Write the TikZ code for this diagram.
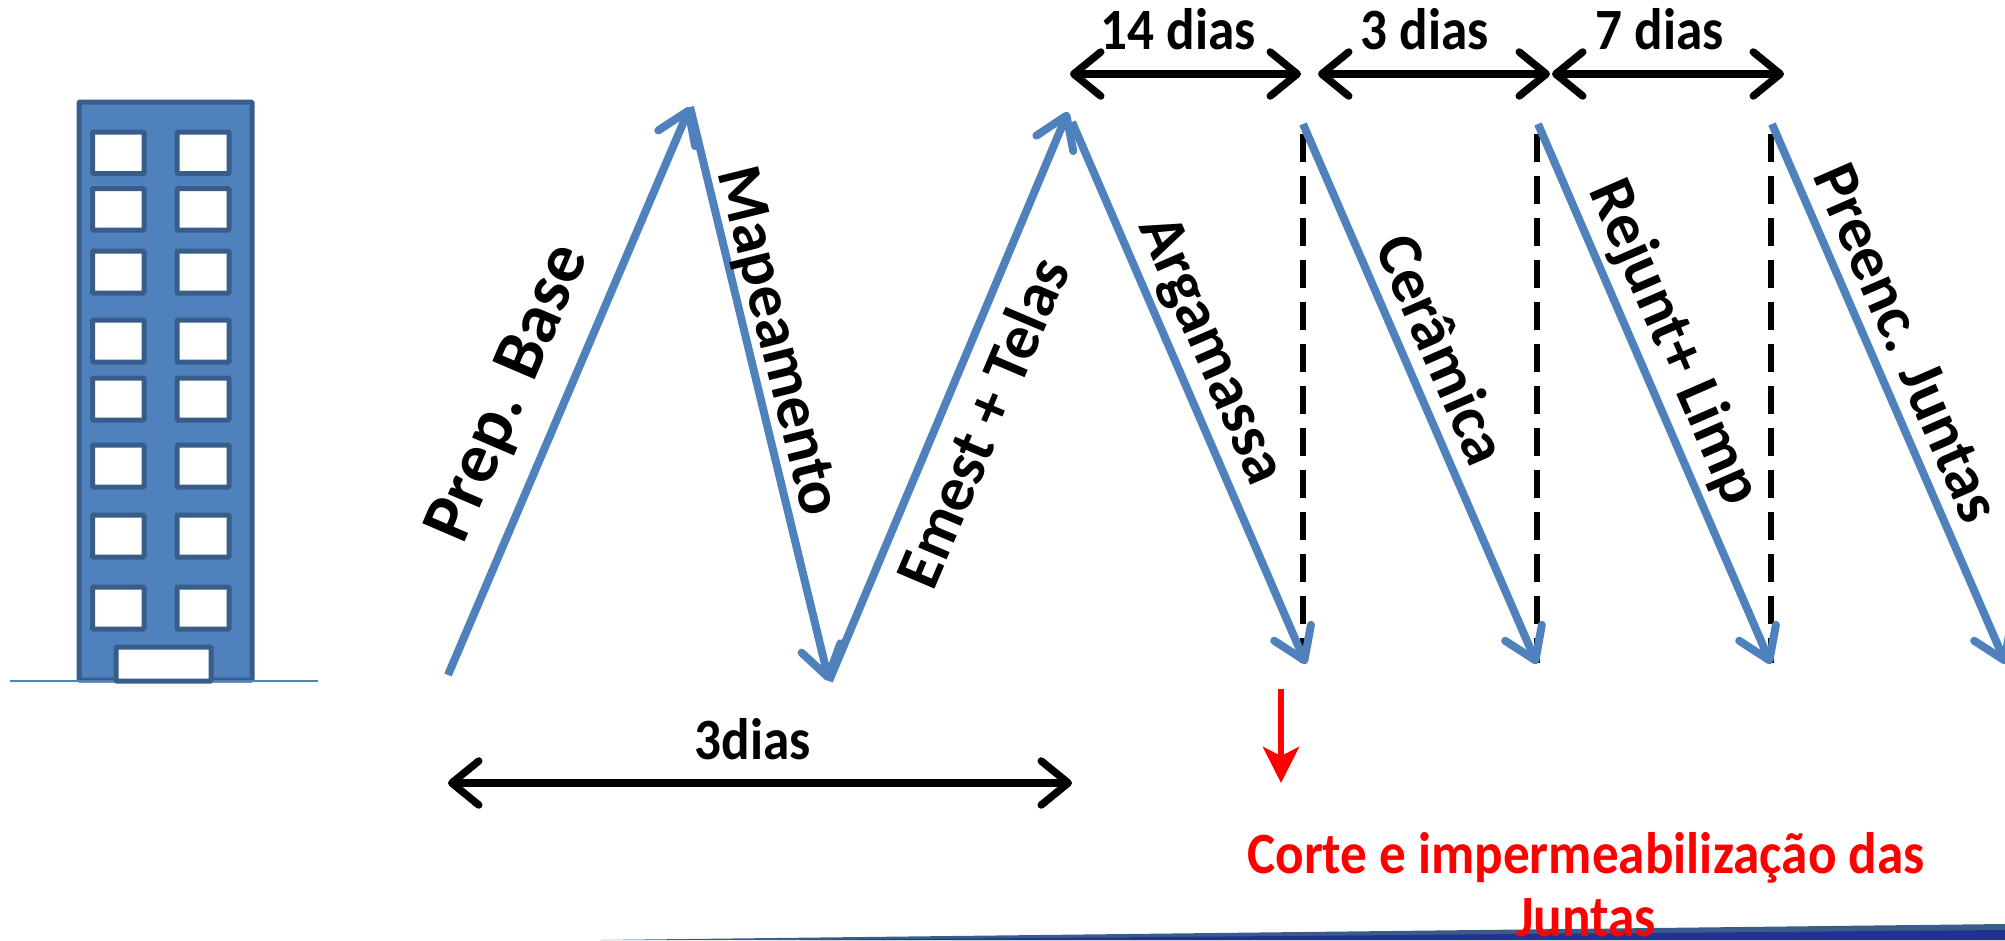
\documentclass[tikz,border=0pt]{standalone}
\usepackage{fontspec}
\setmainfont{Carlito}
\usetikzlibrary{arrows.meta}
\definecolor{bluA}{HTML}{4F81BD}
\definecolor{bluB}{HTML}{385D8A}
\definecolor{navy}{HTML}{233292}
\tikzset{
  x=1pt,y=-1pt,
  lab/.style={font=\bfseries\fontsize{53.2}{53.2}\selectfont,text=black,inner sep=0pt,anchor=base,transform shape,yscale=1.1},
  rot/.style={font=\bfseries\fontsize{63.5}{63.5}\selectfont,text=black,inner sep=0pt},
  bluearrow/.style={draw=bluA,line width=8pt,-{Straight Barb[length=30pt,width=40pt,line width=8pt,round]}},
  span/.style={draw=black,line width=7.5pt,{Straight Barb[length=27pt,width=44pt,line width=7.5pt,round]}-{Straight Barb[length=27pt,width=44pt,line width=7.5pt,round]}},
  guide/.style={draw=black,line width=6pt,dash pattern=on 28pt off 14pt},
  wall/.style={draw=bluB,line width=5pt,fill=bluA,rounded corners=1pt},
  win/.style={draw=bluB,line width=5pt,fill=white,rounded corners=1pt},
}
\newcommand{\windowrow}[2]{%
  \draw[win] (92.5,#1) rectangle (144,#2);
  \draw[win] (177,#1) rectangle (229,#2);}
\begin{document}
\begin{tikzpicture}
\useasboundingbox (0,0) rectangle (2005,940);
% bottom band
\fill[bluB] (600,940) -- (2005,924) -- (2005,940) -- cycle;
\fill[navy] (800,940) -- (2005,930) -- (2005,940) -- cycle;
% building
\draw[wall] (79,102) rectangle (252,680);
\windowrow{132}{173.5}
\windowrow{188.5}{230}
\windowrow{251}{293}
\windowrow{320}{362}
\windowrow{378}{420}
\windowrow{445}{487}
\windowrow{515}{557}
\windowrow{587}{629}
\draw[bluA,line width=2pt] (10,681) -- (318,681);
\draw[win] (116,647) rectangle (211,681);
% points
\coordinate (a0) at (448,675);
\coordinate (a1) at (690,107);
\coordinate (a2) at (829,681);
\coordinate (a3) at (1068,112);
\coordinate (a4s) at (1072,122);
\coordinate (a4) at (1306,664);
\coordinate (c0) at (1303,124);
\coordinate (c1) at (1537,664);
\coordinate (d0) at (1538,124);
\coordinate (d1) at (1771,664);
\coordinate (e0) at (1772,124);
\coordinate (e1) at (2006,664);
\coordinate (g1a) at (1303,134); \coordinate (g1b) at (1303,663);
\coordinate (g2a) at (1537,134); \coordinate (g2b) at (1537,663);
\coordinate (g3a) at (1771,134); \coordinate (g3b) at (1771,663);
% dashed guides
\draw[guide] (g1a) -- (g1b);
\draw[guide] (g2a) -- (g2b);
\draw[guide] (g3a) -- (g3b);
% zig-zag
\draw[bluearrow] (a0) -- (a1);
\draw[bluearrow] (a1) -- (a2);
\draw[bluearrow] (a2) -- (a3);
\draw[bluearrow] (a4s) -- (a4);
\draw[bluearrow] (c0) -- (c1);
\draw[bluearrow] (d0) -- (d1);
\draw[bluearrow] (e0) -- (e1);
% rotated labels
\node[rot,font=\bfseries\fontsize{71}{71}\selectfont,rotate=66.8] (prep) at (510,394) {Prep. Base};
\node[rot,rotate=-76] (mapa) at (776,342) {Mapeamento};
\node[rot,rotate=67] (emes) at (982,422) {Emest + Telas};
\node[rot,rotate=-66.5] (arga) at (1209,351) {Argamassa};
\node[rot,rotate=-66.5] (cera) at (1443,349) {Cerâmica};
\node[rot,rotate=-66.5] (reju) at (1673,343) {Rejunt+ Limp};
\node[rot,rotate=-66.5] (pree) at (1907,343) {Preenc. Juntas};
% spans
\coordinate (s0) at (1070,74); \coordinate (s1) at (1301,74);
\coordinate (s2) at (1318,74); \coordinate (s3) at (1550,74);
\coordinate (s4) at (1552,74); \coordinate (s5) at (1784,74);
\coordinate (t0) at (448,783); \coordinate (t1) at (1072,783);
\draw[span] (s0) -- (s1);
\draw[span] (s2) -- (s3);
\draw[span] (s4) -- (s5);
\draw[span] (t0) -- (t1);
\node[lab] (l14) at (1178,49) {14 dias};
\node[lab] (l3) at (1425,49) {3 dias};
\node[lab] (l7) at (1660,49) {7 dias};
\node[lab] (l3d) at (753,759) {3dias};
% red
\coordinate (r0) at (1281,689); \coordinate (r1) at (1281,783);
\draw[red,line width=6pt,-{Stealth[length=36pt,width=36pt,inset=9pt]}] (r0) -- (r1);
\node[lab,text=red] (cort) at (1586,873) {Corte e impermeabilização das};
\node[lab,text=red] (junt) at (1586,936) {Juntas};
\end{tikzpicture}
\end{document}
